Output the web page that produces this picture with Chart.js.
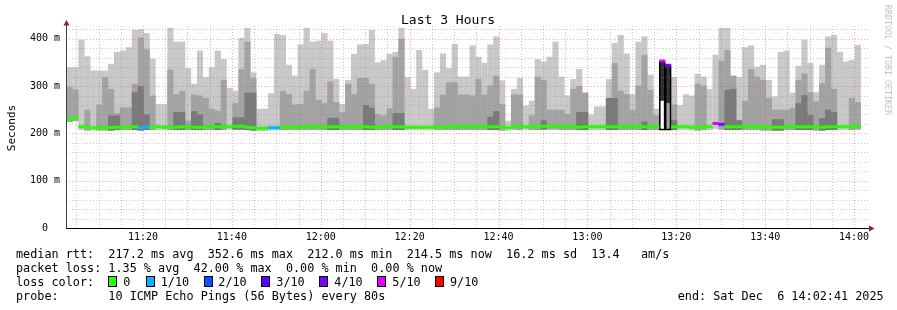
<!DOCTYPE html>
<html>
<head>
<meta charset="utf-8">
<script src="https://cdn.jsdelivr.net/npm/chart.js@4.4.1/dist/chart.umd.min.js"></script>
<style>
  html, body { margin: 0; padding: 0; background: #fff; overflow: hidden; }
  canvas { display: block; }
</style>
</head>
<body>
<canvas id="smoke" width="897" height="310"></canvas>
<script>
// Datos (ms por paso de 80 s, 134 pasos desde 11:02:50)
const smokeTop = [
  340, 340, 398, 363, 333, 333, 333, 347, 372, 375,
  382, 419, 420, 412, 358, 262, 262, 423, 394, 394,
  338, 305, 375, 319, 340, 375, 357, 296, 290, 402,
  423, 329, 252, 252, 285, 410, 408, 345, 322, 388,
  423, 394, 396, 412, 396, 315, 262, 313, 368, 388,
  389, 419, 350, 355, 368, 372, 423, 319, 294, 376,
  334, 252, 329, 369, 338, 389, 320, 320, 386, 362,
  349, 388, 405, 312, 227, 294, 317, 259, 269, 357,
  352, 362, 394, 320, 280, 315, 336, 286, 240, 257,
  257, 315, 391, 408, 369, 283, 394, 405, 324, 252,
  null, null, 319, 260, 283, 280, 326, 320, 294, 366,
  423, 423, 322, 319, 382, 386, 341, 345, 313, 278,
  372, 375, 286, 343, 398, 349, 287, 345, 405, 408,
  372, 352, 355, 387
];
const midTop = [
  299, 293, null, 250, null, 261, 319, 294, 243, 255,
  255, 305, 403, 378, 280, null, null, 335, 283, 290,
  227, 282, 280, 275, 252, 248, 313, null, 264, 336,
  394, 317, null, null, null, null, 290, 283, 261, 262,
  290, 336, 271, 264, 310, 266, 245, 305, 283, 317,
  317, 305, 241, 238, 253, 362, 400, null, null, null,
  null, null, 255, 282, 308, 308, 282, 282, 280, 315,
  282, 301, 322, 262, null, 283, 282, null, 238, 320,
  313, 250, 250, 250, 241, 294, 300, 286, null, null,
  null, null, 349, 290, 283, 250, 301, 366, 292, 238,
  null, 264, 261, null, null, null, 305, 301, null, null,
  354, 376, 322, null, 269, 336, 320, 313, 275, 250,
  250, 250, 254, 313, 327, 287, 268, 306, 381, 294,
  null, null, 275, 266
];
const darkTop = [
  null, null, null, null, null, null, null, 238, 238, null,
  null, 287, 300, 240, null, null, null, null, 245, 245,
  null, 247, 240, null, null, 222, null, null, 234, 234,
  286, 286, null, null, null, null, null, null, null, null,
  null, null, null, null, 233, 233, null, null, null, null,
  260, 254, null, null, null, 243, 243, null, null, null,
  null, null, null, null, null, null, null, null, null, null,
  null, 235, 247, null, null, null, null, null, null, null,
  228, null, null, null, null, null, 245, 245, null, null,
  null, 275, 275, null, null, null, null, 225, null, null,
  null, null, 228, null, null, null, null, null, null, null,
  null, 292, 294, 228, null, null, null, null, null, 230,
  230, null, null, 264, 281, 239, null, 232, 250, 245,
  null, null, null, null
];
const rttMin = [
  224, 226, 207, 206, 206, 206, 206, 206, 207, 207,
  207, 207, 206, 207, 207, 207, 207, 207, 207, 207,
  207, 207, 207, 207, 207, 207, 207, 208, 208, 208,
  207, 206, 205, 205, 206, 206, 207, 207, 207, 207,
  207, 207, 207, 207, 207, 207, 207, 207, 207, 207,
  207, 207, 207, 207, 207, 207, 207, 207, 207, 207,
  207, 207, 207, 207, 207, 207, 207, 207, 207, 207,
  207, 207, 207, 206, 206, 208, 207, 207, 207, 207,
  208, 208, 208, 207, 207, 207, 207, 207, 207, 207,
  207, 207, 207, 207, 207, 207, 207, 207, 207, 207,
  207, 207, 207, 207, 207, 206, 206, 207, 207, 209,
  208, 207, 207, 207, 207, 207, 207, 206, 206, 206,
  206, 207, 207, 207, 207, 207, 206, 206, 207, 207,
  207, 207, 207, 208
];
const medianRtt = [
  230, 233, 214, 213, 212, 212, 212, 212, 213, 213,
  213, 214, 212, 213, 213, 214, 213, 213, 213, 214,
  213, 213, 213, 214, 214, 214, 214, 214, 215, 215,
  213, 212, 211, 211, 212, 212, 213, 214, 213, 213,
  214, 214, 213, 213, 214, 214, 214, 213, 213, 214,
  214, 213, 213, 214, 214, 214, 214, 213, 213, 213,
  213, 213, 213, 213, 214, 214, 214, 214, 214, 214,
  214, 214, 214, 213, 212, 215, 214, 214, 214, 214,
  215, 215, 215, 214, 214, 214, 213, 214, 214, 214,
  214, 214, 214, 214, 214, 214, 214, 214, 214, 214,
  353, 344, 214, 214, 214, 213, 213, 214, 214, 221,
  219, 214, 214, 214, 214, 214, 214, 213, 213, 213,
  213, 214, 214, 214, 214, 214, 213, 213, 214, 214,
  214, 214, 214, 214.5
];
// perdidas en decimos (10 pings)
const lossTenths = [
  0, 0, 0, 0, 0, 0, 0, 0, 0, 0,
  0, 0, 1, 1, 0, 0, 0, 0, 0, 0,
  0, 0, 0, 0, 0, 0, 0, 0, 0, 0,
  0, 0, 0, 0, 1, 1, 0, 0, 0, 0,
  0, 0, 0, 0, 0, 0, 0, 0, 0, 0,
  0, 0, 0, 0, 0, 0, 0, 0, 0, 0,
  0, 0, 0, 0, 0, 0, 0, 0, 0, 0,
  0, 0, 0, 0, 0, 0, 0, 0, 0, 0,
  0, 0, 0, 0, 0, 0, 0, 0, 0, 0,
  0, 0, 0, 0, 0, 0, 0, 0, 0, 0,
  5, 4, 0, 0, 0, 0, 0, 0, 0, 5,
  4, 0, 0, 0, 0, 0, 0, 0, 0, 0,
  0, 0, 0, 0, 0, 0, 0, 0, 0, 0,
  0, 0, 0, 0
];
// columna con perdidas altas (humo oscuro)
const heavyCols = [100, 101];
const heavyLow = [269, 264];
const heavyHigh = [352, 343];

// Ejes
const timeTicks = ['11:20', '11:40', '12:00', '12:20', '12:40', '13:00', '13:20', '13:40', '14:00'];
const timeTickSeconds = [1200, 2400, 3600, 4800, 6000, 7200, 8400, 9600, 10800];
const yTickValues = [0, 100, 200, 300, 400];
const yTickLabels = ['0  ', '100 m', '200 m', '300 m', '400 m'];

// Leyenda
const lossLegend = ['0', '1/10', '2/10', '3/10', '4/10', '5/10', '9/10'];
const lossLegendColors = ['#26ff00', '#00b8ff', '#0059ff', '#5e00ff', '#7e00ff', '#dd00ff', '#ff0000'];
const legendLines = [
  'median rtt:  217.2 ms avg  352.6 ms max  212.0 ms min  214.5 ms now  16.2 ms sd  13.4   am/s',
  'packet loss: 1.35 % avg  42.00 % max  0.00 % min  0.00 % now',
  'loss color:',
  'probe:       10 ICMP Echo Pings (56 Bytes) every 80s'
];
const endText = 'end: Sat Dec  6 14:02:41 2025';
const chartTitle = 'Last 3 Hours';

// Estilo
const MONO = '"DejaVu Sans Mono", monospace';
const GRID_MINOR = 'rgba(128,128,128,0.42)';
const GRID_MAJOR = 'rgba(235,60,60,0.45)';
const slotSeconds = 80;
const firstSlotMid = 210;   // segundos despues de las 11:00
const lineHalf = 3.2;       // medio grosor de la linea mediana (ms)

function slotX(i) { return firstSlotMid + i * slotSeconds; }

function lossColor(t) {
  if (t >= 9) return lossLegendColors[6];
  if (t >= 5) return lossLegendColors[5];
  return lossLegendColors[t];
}

function rangeData(top) {
  const out = [];
  top.forEach((v, i) => {
    if (v !== null) out.push({ x: slotX(i), y: [rttMin[i], v] });
  });
  return out;
}

const barBase = {
  type: 'bar',
  grouped: false,
  borderWidth: 0,
  barPercentage: 1.04,
  categoryPercentage: 1
};

const datasets = [
  Object.assign({}, barBase, { data: rangeData(smokeTop), backgroundColor: '#c8c8c8', order: 6 }),
  Object.assign({}, barBase, { data: rangeData(midTop), backgroundColor: '#a3a3a3', order: 5 }),
  Object.assign({}, barBase, { data: rangeData(darkTop), backgroundColor: '#7a7a7a', order: 4 }),
  Object.assign({}, barBase, {
    data: heavyCols.map((c, k) => ({ x: slotX(c), y: [heavyLow[k], heavyHigh[k]] })),
    backgroundColor: '#333333', order: 3
  }),
  Object.assign({}, barBase, {
    data: heavyCols.map((c, k) => ({ x: slotX(c), y: [rttMin[c], heavyHigh[k]] })),
    backgroundColor: 'rgba(0,0,0,0)', borderColor: '#000', borderWidth: 1,
    borderSkipped: false, barPercentage: 1, order: 2
  }),
  Object.assign({}, barBase, {
    data: medianRtt.map((m, i) => ({ x: slotX(i), y: [m - lineHalf, m + lineHalf] })),
    backgroundColor: lossTenths.map(lossColor), order: 1
  })
];

// Rejilla, ejes y textos estilo rrdtool
const rrdDecor = {
  id: 'rrdDecor',
  afterDatasetsDraw(chart) {
    const { ctx, chartArea: a, scales: { x, y } } = chart;
    const gridRight = 869;
    ctx.save();
    ctx.lineWidth = 1;
    ctx.setLineDash([1, 2]);
    for (let v = 20; v <= 420; v += 20) {
      const py = Math.round(y.getPixelForValue(v)) + 0.5;
      ctx.strokeStyle = v % 100 === 0 ? GRID_MAJOR : GRID_MINOR;
      ctx.beginPath(); ctx.moveTo(a.left, py); ctx.lineTo(gridRight, py); ctx.stroke();
    }
    for (let t = 300; t <= 10800; t += 300) {
      const px = Math.round(x.getPixelForValue(t)) + 0.5;
      ctx.strokeStyle = t % 1200 === 0 ? GRID_MAJOR : GRID_MINOR;
      ctx.beginPath(); ctx.moveTo(px, a.top); ctx.lineTo(px, a.bottom); ctx.stroke();
    }
    ctx.setLineDash([]);
    // ejes
    ctx.strokeStyle = '#404040';
    ctx.beginPath(); ctx.moveTo(a.left + 0.5, 24); ctx.lineTo(a.left + 0.5, a.bottom + 1); ctx.stroke();
    ctx.strokeStyle = '#000';
    ctx.beginPath(); ctx.moveTo(a.left, a.bottom + 0.5); ctx.lineTo(870, a.bottom + 0.5); ctx.stroke();
    ctx.fillStyle = '#9b1c1c';
    ctx.beginPath(); ctx.moveTo(63.5, 25.5); ctx.lineTo(69.5, 25.5); ctx.lineTo(66.5, 20); ctx.closePath(); ctx.fill();
    ctx.beginPath(); ctx.moveTo(869, 225.5); ctx.lineTo(869, 231.5); ctx.lineTo(874.5, 228.5); ctx.closePath(); ctx.fill();
    ctx.restore();
  },
  afterDraw(chart) {
    const ctx = chart.ctx;
    ctx.save();
    ctx.fillStyle = '#000';
    ctx.textBaseline = 'alphabetic';

    ctx.font = '13px ' + MONO;
    ctx.textAlign = 'center';
    ctx.fillText(chartTitle, 448, 24);

    ctx.save();
    ctx.translate(15, 128);
    ctx.rotate(-Math.PI / 2);
    ctx.font = '11px ' + MONO;
    ctx.fillText('Seconds', 0, 0);
    ctx.restore();

    ctx.save();
    ctx.translate(885, 5);
    ctx.rotate(Math.PI / 2);
    ctx.textAlign = 'left';
    ctx.font = '8.3px ' + MONO;
    ctx.fillStyle = '#c2c2c2';
    ctx.fillText('RRDTOOL / TOBI OETIKER', 0, 0);
    ctx.restore();

    ctx.textAlign = 'left';
    ctx.font = '11.8px ' + MONO;
    const baselines = [258, 272, 286, 300];
    legendLines.forEach((t, i) => ctx.fillText(t, 16, baselines[i]));
    ctx.fillText(endText, 677.7, 300);

    const boxX = [108, 146, 204, 261, 319, 377, 435];
    const labelX = [123.3, 160.7, 218.3, 276.3, 334.3, 392.3, 450];
    lossLegend.forEach((lbl, i) => {
      ctx.fillStyle = lossLegendColors[i];
      ctx.fillRect(boxX[i] + 0.5, 276.5, 8, 10);
      ctx.strokeStyle = '#000';
      ctx.lineWidth = 1;
      ctx.strokeRect(boxX[i] + 0.5, 276.5, 8, 10);
      ctx.fillStyle = '#000';
      ctx.fillText(lbl, labelX[i], 286);
    });
    ctx.restore();
  }
};

new Chart(document.getElementById('smoke'), {
  type: 'bar',
  data: { datasets: datasets },
  plugins: [rrdDecor],
  options: {
    responsive: false,
    animation: false,
    devicePixelRatio: 1,
    events: [],
    layout: { padding: { left: 0, top: 26, right: 31, bottom: 0 } },
    plugins: {
      legend: { display: false },
      tooltip: { enabled: false },
      title: { display: false }
    },
    scales: {
      x: {
        type: 'linear',
        offset: false,
        min: 161,
        max: 10961,
        grid: { display: false, drawTicks: false, offset: false },
        border: { display: false },
        afterBuildTicks: s => { s.ticks = timeTickSeconds.map(v => ({ value: v })); },
        afterFit: s => { s.height = 82; },
        ticks: {
          autoSkip: false,
          maxRotation: 0,
          padding: 3,
          color: '#000',
          font: { family: MONO, size: 10 },
          callback: (v, i) => timeTicks[i]
        }
      },
      y: {
        min: 0,
        max: 427,
        grid: { display: false, drawTicks: false },
        border: { display: false },
        afterBuildTicks: s => { s.ticks = yTickValues.map(v => ({ value: v })); },
        afterFit: s => { s.width = 66; },
        ticks: {
          padding: 6,
          color: '#000',
          font: { family: MONO, size: 10 },
          callback: (v, i) => yTickLabels[i]
        }
      }
    }
  }
});
</script>
</body>
</html>
